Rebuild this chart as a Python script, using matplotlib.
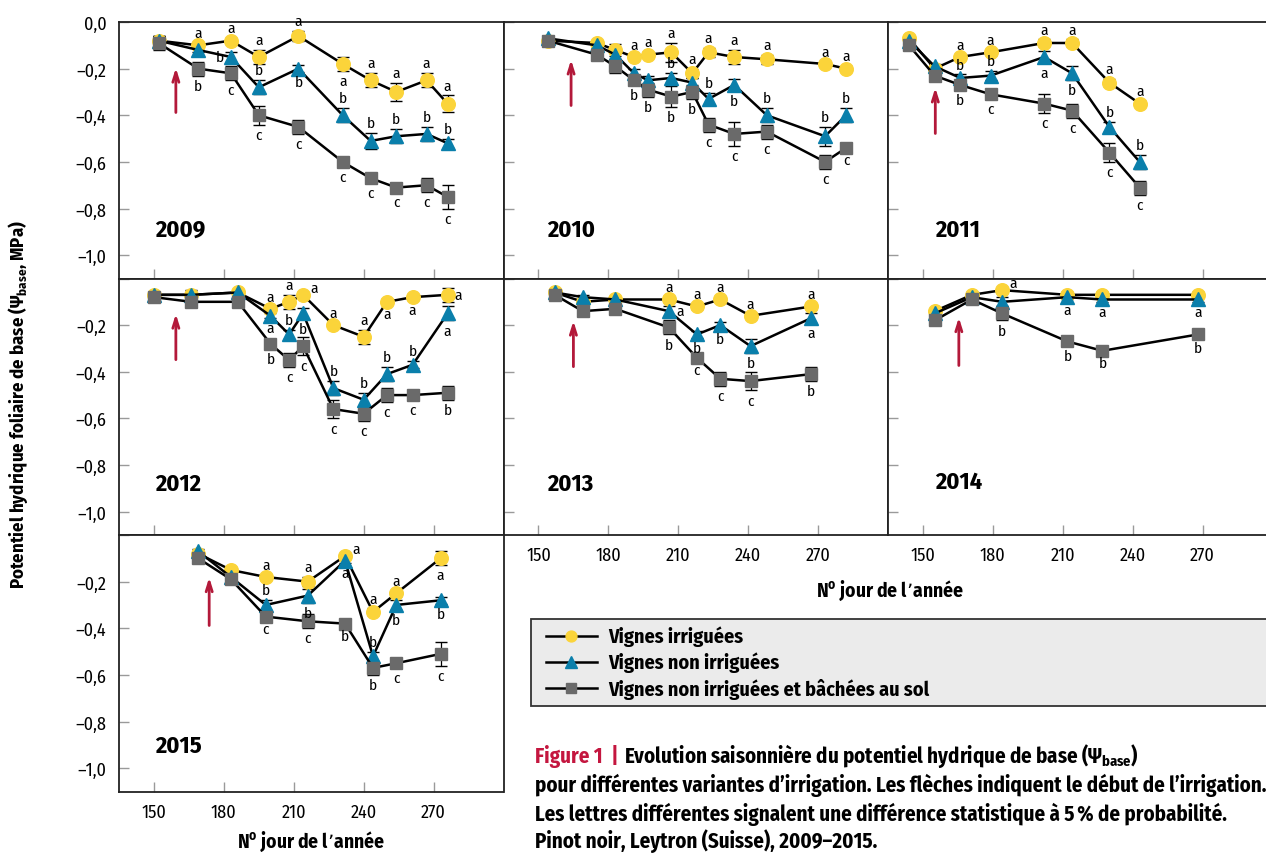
import matplotlib.pyplot as plt
from matplotlib.patches import Rectangle
from matplotlib.lines import Line2D

plt.rcParams['font.family'] = ['Fira Sans Condensed', 'Archivo Narrow', 'DejaVu Sans']

# day of year of each measurement, per season
days = {
    2009: [152, 169, 183, 195, 212, 231, 243, 254, 267, 276],
    2010: [154, 175, 183, 191, 197, 207, 216, 223, 234, 248, 273, 282],
    2011: [144, 155, 166, 179, 202, 214, 230, 243],
    2012: [150, 166, 186, 200, 208, 214, 227, 240, 250, 261, 276],
    2013: [157, 169, 183, 206, 218, 228, 241, 267],
    2014: [155, 171, 184, 212, 227, 268],
    2015: [169, 183, 198, 216, 232, 244, 254, 273],
}

# predawn leaf water potential (MPa)
irrigated = {
    2009: [-0.08, -0.10, -0.08, -0.15, -0.06, -0.18, -0.25, -0.30, -0.25, -0.35],
    2010: [-0.08, -0.09, -0.12, -0.15, -0.14, -0.13, -0.22, -0.13, -0.15, -0.16, -0.18, -0.20],
    2011: [-0.07, -0.20, -0.15, -0.13, -0.09, -0.09, -0.26, -0.35],
    2012: [-0.07, -0.07, -0.06, -0.13, -0.10, -0.07, -0.20, -0.25, -0.10, -0.08, -0.07],
    2013: [-0.06, -0.10, -0.09, -0.09, -0.12, -0.09, -0.16, -0.12],
    2014: [-0.14, -0.07, -0.05, -0.07, -0.07, -0.07],
    2015: [-0.08, -0.15, -0.18, -0.20, -0.09, -0.33, -0.25, -0.10],
}
non_irrigated = {
    2009: [-0.08, -0.12, -0.15, -0.28, -0.20, -0.40, -0.51, -0.49, -0.48, -0.52],
    2010: [-0.07, -0.10, -0.14, -0.22, -0.25, -0.24, -0.26, -0.33, -0.27, -0.40, -0.49, -0.40],
    2011: [-0.08, -0.19, -0.24, -0.23, -0.15, -0.22, -0.45, -0.60],
    2012: [-0.07, -0.07, -0.06, -0.16, -0.24, -0.15, -0.47, -0.52, -0.41, -0.37, -0.15],
    2013: [-0.06, -0.08, -0.09, -0.14, -0.24, -0.20, -0.29, -0.17],
    2014: [-0.15, -0.08, -0.10, -0.08, -0.09, -0.09],
    2015: [-0.07, -0.18, -0.30, -0.26, -0.11, -0.52, -0.30, -0.28],
}
covered = {
    2009: [-0.09, -0.20, -0.22, -0.40, -0.45, -0.60, -0.67, -0.71, -0.70, -0.75],
    2010: [-0.08, -0.14, -0.19, -0.25, -0.29, -0.32, -0.30, -0.44, -0.48, -0.47, -0.60, -0.54],
    2011: [-0.10, -0.23, -0.27, -0.31, -0.35, -0.38, -0.56, -0.71],
    2012: [-0.08, -0.10, -0.10, -0.28, -0.35, -0.29, -0.56, -0.58, -0.50, -0.50, -0.49],
    2013: [-0.07, -0.14, -0.13, -0.21, -0.34, -0.43, -0.44, -0.41],
    2014: [-0.18, -0.09, -0.15, -0.27, -0.31, -0.24],
    2015: [-0.10, -0.19, -0.35, -0.37, -0.38, -0.57, -0.55, -0.51],
}

# standard errors
err_irr = {
    2009: [0.02, 0.01, 0.01, 0.03, 0.02, 0.03, 0.03, 0.04, 0.03, 0.035],
    2010: [0.01, 0.01, 0.025, 0.01, 0.01, 0.04, 0.02, 0.02, 0.03, 0.02, 0.01, 0.01],
    2011: [0.01, 0.01, 0.01, 0.01, 0.015, 0.015, 0.015, 0.01],
    2012: [0.01, 0.01, 0.01, 0.01, 0.03, 0.01, 0.01, 0.03, 0.01, 0.01, 0.03],
    2013: [0.01, 0.01, 0.01, 0.01, 0.01, 0.01, 0.01, 0.01],
    2014: [0.01, 0.01, 0.01, 0.01, 0.01, 0.01],
    2015: [0.01, 0.01, 0.01, 0.02, 0.01, 0.015, 0.01, 0.03],
}
err_non = {
    2009: [0.02, 0.01, 0.02, 0.03, 0.015, 0.03, 0.035, 0.03, 0.03, 0.02],
    2010: [0.01, 0.01, 0.02, 0.02, 0.02, 0.02, 0.02, 0.025, 0.025, 0.03, 0.04, 0.03],
    2011: [0.01, 0.01, 0.015, 0.02, 0.025, 0.03, 0.02, 0.03],
    2012: [0.01, 0.02, 0.01, 0.01, 0.02, 0.025, 0.03, 0.03, 0.03, 0.015, 0.03],
    2013: [0.01, 0.01, 0.01, 0.02, 0.015, 0.015, 0.03, 0.02],
    2014: [0.01, 0.01, 0.02, 0.01, 0.01, 0.01],
    2015: [0.01, 0.01, 0.02, 0.03, 0.01, 0.02, 0.02, 0.015],
}
err_cov = {
    2009: [0.03, 0.03, 0.03, 0.04, 0.03, 0.02, 0.02, 0.02, 0.03, 0.05],
    2010: [0.01, 0.01, 0.03, 0.02, 0.03, 0.045, 0.03, 0.03, 0.05, 0.03, 0.03, 0.01],
    2011: [0.02, 0.01, 0.02, 0.02, 0.04, 0.03, 0.04, 0.03],
    2012: [0.01, 0.02, 0.01, 0.02, 0.03, 0.04, 0.04, 0.03, 0.03, 0.02, 0.03],
    2013: [0.01, 0.01, 0.01, 0.03, 0.01, 0.03, 0.04, 0.03],
    2014: [0.01, 0.01, 0.03, 0.02, 0.01, 0.015],
    2015: [0.01, 0.01, 0.01, 0.03, 0.01, 0.03, 0.02, 0.05],
}

# significance letters, one char per date ('-' = none)
let_irr = {2009: '-aaaaaaaaa', 2010: '---aaaaaaaaa', 2011: '--aaaaaa',
           2012: '---aaaaaaaa', 2013: '---aaaaa', 2014: '--a---', 2015: '--aaaaaa'}
let_non = {2009: '--bbbbbbbb', 2010: '-----b-bbbbb', 2011: '--bbabbb',
           2012: '---abbbbbba', 2013: '---abbba', 2014: '---aaa', 2015: '--bbabbb'}
let_cov = {2009: '-bcccccccc', 2010: '---bbbbccccc', 2011: '--bccccc',
           2012: '---bccccccb', 2013: '---bcccb', 2014: '--bbbb', 2015: '--ccbbcc'}

# where each letter sits: u above, d below, r right, l left, R up-right
side_irr = {2009: '-uuuuduuuu', 2010: '---uuuuuuuuu', 2011: '--uuuuuu',
            2012: '---uuRuuddr', 2013: '---uuuuu', 2014: '--R---', 2015: '--uuRuud'}
side_non = {2009: '--luduuuuu', 2010: '-----u-uduuu', 2011: '--uudduu',
            2012: '---duduuuud', 2013: '---rdddd', 2014: '---ddd', 2015: '--uddudd'}
side_cov = {2009: '-ddddddddd', 2010: '---ddddddddd', 2011: '--dddddd',
            2012: '---dddddddd', 2013: '---ddddd', 2014: '--dddd', 2015: '--dddddd'}

# start of irrigation (arrow), day and arrow extent
irr_start = {2009: 159.4, 2010: 164.0, 2011: 155.3, 2012: 159.4, 2013: 165.0, 2014: 165.4, 2015: 173.7}
arrow_tail = {2009: -0.40, 2010: -0.37, 2011: -0.49, 2012: -0.36, 2013: -0.39, 2014: -0.385, 2015: -0.40}
arrow_tip = {2009: -0.185, 2010: -0.15, 2011: -0.27, 2012: -0.14, 2013: -0.17, 2014: -0.155, 2015: -0.17}

year_pos = {2009: (150.5, -0.89), 2010: (153.8, -0.89), 2011: (155.4, -0.89), 2012: (150.4, -0.88),
            2013: (153.8, -0.88), 2014: (155.4, -0.87), 2015: (150.4, -0.90)}

labels = ['Vignes irriguées', 'Vignes non irriguées', 'Vignes non irriguées et bâchées au sol']

YELLOW = '#fbd43a'
BLUE = '#0a7fab'
GREY = '#6a6a6a'
RED = '#b3193a'

W, H = 1266, 854
fig = plt.figure(figsize=(W / 100, H / 100), dpi=100)

col_left = [119, 503.5, 888]
row_top = [23, 279.5, 536]
pw, ph = 384.5, 256.5
ppu = ph / 1.1   # pixels per MPa

grid = {2009: (0, 0), 2010: (1, 0), 2011: (2, 0),
        2012: (0, 1), 2013: (1, 1), 2014: (2, 1),
        2015: (0, 2)}
xlab_panels = [2013, 2014, 2015]

styles = [
    dict(marker='o', ms=9.8, color=YELLOW),
    dict(marker='^', ms=10, color=BLUE),
    dict(marker='s', ms=8.5, color=GREY),
]


def offset(side, e):
    e_px = e * ppu
    if side == 'u':
        return (0, e_px + 10)
    if side == 'd':
        return (0, -(e_px + 10))
    if side == 'r':
        return (11, 0)
    if side == 'l':
        return (-11, 0)
    return (11, 7)


for year, (c, r) in grid.items():
    ax = fig.add_axes([col_left[c] / W, 1 - (row_top[r] + ph) / H, pw / W, ph / H])
    ax.set_xlim(135, 300)
    ax.set_ylim(-1.1, 0)
    for s in ax.spines.values():
        s.set_linewidth(1.3)
        s.set_color('#222222')
    ax.set_xticks([150, 180, 210, 240, 270])
    ax.set_yticks([0, -0.2, -0.4, -0.6, -0.8, -1.0])
    ax.tick_params(direction='in', length=7, width=1, color='#9a9a9a', labelsize=13)
    ax.tick_params(axis='x', pad=8)
    ax.tick_params(axis='y', pad=9)
    if c == 0:
        ylabs = ['0,0' if r == 0 else ''] + ['\u2013' + f'{v:.1f}'.replace('.', ',') for v in [0.2, 0.4, 0.6, 0.8, 1.0]]
        ax.set_yticklabels(ylabs)
    else:
        ax.set_yticklabels([])
    if year not in xlab_panels:
        ax.set_xticklabels([])

    series = [
        (irrigated[year], err_irr[year], let_irr[year], side_irr[year]),
        (non_irrigated[year], err_non[year], let_non[year], side_non[year]),
        (covered[year], err_cov[year], let_cov[year], side_cov[year]),
    ]
    x = days[year]
    for (vals, errs, lets, sides), st in zip(series, styles):
        ax.errorbar(x, vals, yerr=errs, fmt='none', ecolor='black', elinewidth=0.9,
                    capsize=4, capthick=1.0, zorder=2)
        ax.plot(x, vals, color='black', lw=1.8, marker=st['marker'], ms=st['ms'],
                mfc=st['color'], mec=st['color'], zorder=3)
        for d, v, e, l, sd in zip(x, vals, errs, lets, sides):
            if l == '-':
                continue
            ax.annotate(l, (d, v), xytext=offset(sd, e), textcoords='offset pixels',
                        ha='center', va='center', fontsize=11, zorder=5)

    ax.annotate('', xy=(irr_start[year], arrow_tip[year]), xytext=(irr_start[year], arrow_tail[year]),
                arrowprops=dict(arrowstyle='->,head_length=0.7,head_width=0.22', color=RED, lw=2))
    ax.text(*year_pos[year], str(year), fontsize=17.5, fontweight='bold', ha='left', va='center')

# axis titles
fig.text(18 / W, 1 - 405 / H, 'Potentiel hydrique foliaire de base (\u03a8$_\\mathregular{base}$, MPa)',
         rotation=90, ha='center', va='center', fontsize=13.5, fontweight='bold')
xl = 'N$^\\mathregular{o}$ jour de l\u2019année'
fig.text(311 / W, 1 - 842 / H, xl, ha='center', va='center', fontsize=14, fontweight='bold')
fig.text(890 / W, 1 - 591 / H, xl, ha='center', va='center', fontsize=14, fontweight='bold')

# legend box
fig.add_artist(Rectangle((531 / W, 1 - 706.7 / H), (1300 - 531) / W, (706.7 - 620) / H,
                         transform=fig.transFigure, facecolor='#ebebeb', edgecolor='#333333', lw=1.3))
for yy, lab, st in zip([636.7, 662.7, 689.3], labels, styles):
    fig.add_artist(Line2D([545.7 / W, 596.7 / W], [1 - yy / H] * 2, transform=fig.transFigure,
                          color='black', lw=1.8))
    fig.add_artist(Line2D([571 / W], [1 - yy / H], transform=fig.transFigure, marker=st['marker'],
                          ms=st['ms'] * 0.8, mfc=st['color'], mec=st['color'], ls='none'))
    fig.text(608 / W, 1 - yy / H, lab, ha='left', va='center', fontsize=14.5, fontweight='bold')

# caption
renderer = fig.canvas.get_renderer()
t = fig.text(535 / W, 1 - 763 / H, 'Figure 1  |', color='#c4163f', fontsize=15,
             fontweight='bold', va='baseline')
x1 = t.get_window_extent(renderer).x1
fig.text((x1 + 6) / W, 1 - 763 / H, 'Evolution saisonnière du potentiel hydrique de base (\u03a8$_\\mathregular{base}$)',
         fontsize=15, fontweight='bold', va='baseline')
caption = ['pour différentes variantes d\u2019irrigation. Les flèches indiquent le début de l\u2019irrigation.',
           'Les lettres différentes signalent une différence statistique à 5\u2009% de probabilité.',
           'Pinot noir, Leytron (Suisse), 2009\u20132015.']
for yy, line in zip([792, 821, 848], caption):
    fig.text(535 / W, 1 - yy / H, line, fontsize=15, fontweight='bold', va='baseline')

fig.savefig('out.png', dpi=100)
